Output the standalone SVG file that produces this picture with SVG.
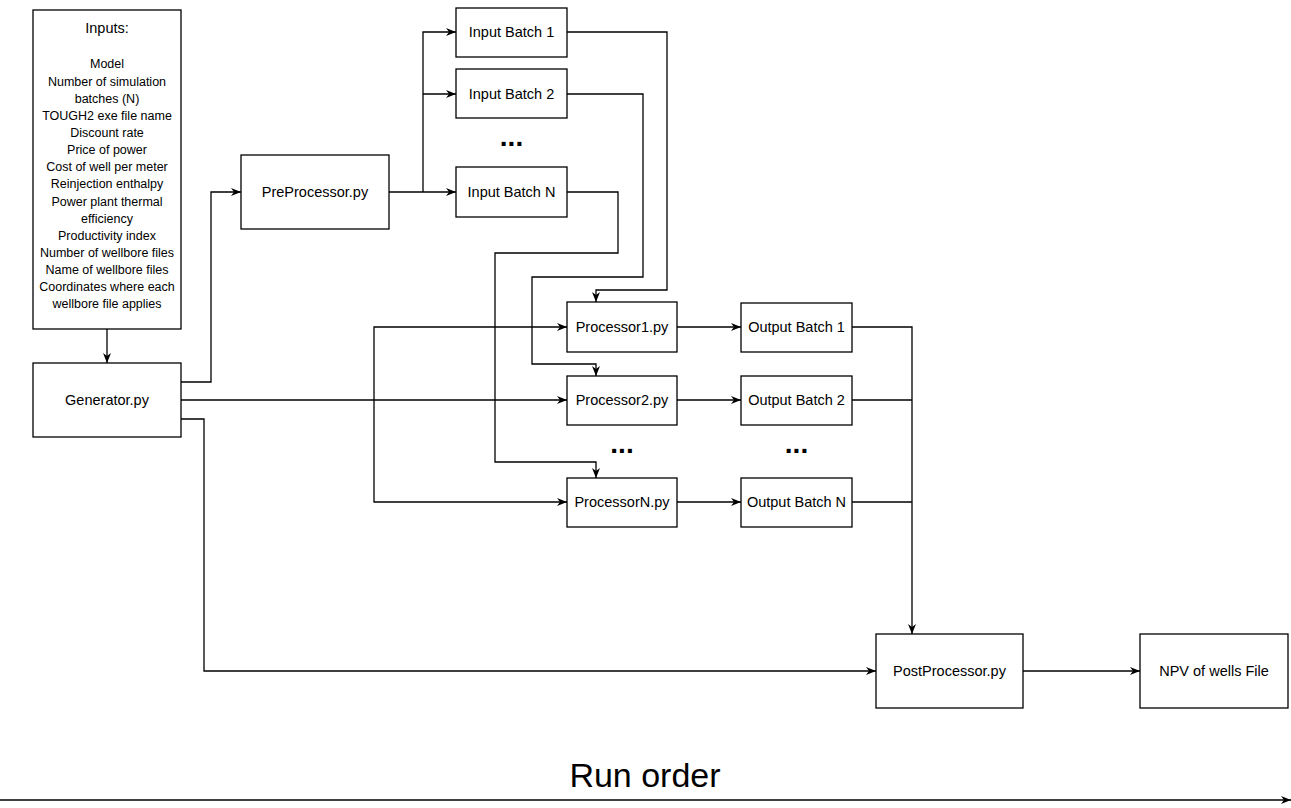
<svg xmlns="http://www.w3.org/2000/svg" width="1291" height="808" viewBox="0 0 1291 808">
<style>
.box{fill:#fff;stroke:#000;stroke-width:1.3}
.lbl{font-family:"Liberation Sans",Arial,Helvetica,sans-serif;font-size:14.5px;fill:#000;text-anchor:middle}
.small{font-family:"Liberation Sans",Arial,Helvetica,sans-serif;font-size:12.5px;fill:#000;text-anchor:middle}
.dots{font-family:"Liberation Sans",Arial,Helvetica,sans-serif;font-size:28px;font-weight:bold;fill:#000;text-anchor:middle}
.big{font-family:"Liberation Sans",Arial,Helvetica,sans-serif;font-size:34px;fill:#000;text-anchor:middle}
.c{fill:none;stroke:#000;stroke-width:1.3}
.a{marker-end:url(#arr)}
</style>
<defs>
<marker id="arr" viewBox="0 0 10 8" refX="10" refY="4" markerWidth="10" markerHeight="8" orient="auto" markerUnits="userSpaceOnUse">
<path d="M0,0 L10,4 L0,8 L3,4 Z" fill="#000"/>
</marker>
</defs>
<rect width="1291" height="808" fill="#fff"/>
<g id="connectors">
<path class="c a" d="M107,329 V363"/>
<path class="c a" d="M181,382 H211 V192 H241"/>
<path class="c a" d="M389,192 H456"/>
<path class="c a" d="M423,192 V32 H456"/>
<path class="c a" d="M423,94 H456"/>
<path class="c a" d="M567,32 H667 V290 H596 V302"/>
<path class="c a" d="M567,94 H643 V277 H532 V364 H596 V376"/>
<path class="c a" d="M567,192 H618 V253 H495 V462 H596 V478"/>
<path class="c a" d="M181,400 H567"/>
<path class="c a" d="M374,400 V327 H567"/>
<path class="c a" d="M374,400 V502 H567"/>
<path class="c a" d="M677,327 H741"/>
<path class="c a" d="M677,400 H741"/>
<path class="c a" d="M677,502 H741"/>
<path class="c a" d="M852,327 H912 V634"/>
<path class="c" d="M852,400 H912"/>
<path class="c" d="M852,502 H912"/>
<path class="c a" d="M181,419 H204 V671 H876"/>
<path class="c a" d="M1023,671 H1140"/>
<path class="c a" d="M0,800 H1291"/>
</g>
<g id="inputs">
<rect class="box" x="33" y="10" width="148" height="319"/>
<text class="lbl" x="107" y="33">Inputs:</text>
<text class="small" x="107" y="68.4">Model</text>
<text class="small" x="107" y="85.5">Number of simulation</text>
<text class="small" x="107" y="102.7">batches (N)</text>
<text class="small" x="107" y="119.8">TOUGH2 exe file name</text>
<text class="small" x="107" y="137">Discount rate</text>
<text class="small" x="107" y="154.1">Price of power</text>
<text class="small" x="107" y="171.2">Cost of well per meter</text>
<text class="small" x="107" y="188.4">Reinjection enthalpy</text>
<text class="small" x="107" y="205.5">Power plant thermal</text>
<text class="small" x="107" y="222.7">efficiency</text>
<text class="small" x="107" y="239.8">Productivity index</text>
<text class="small" x="107" y="257">Number of wellbore files</text>
<text class="small" x="107" y="274.1">Name of wellbore files</text>
<text class="small" x="107" y="291.2">Coordinates where each</text>
<text class="small" x="107" y="308.4">wellbore file applies</text>
</g>
<g id="generator">
<rect class="box" x="33" y="363" width="148" height="74"/>
<text class="lbl" x="107" y="405">Generator.py</text>
</g>
<g id="preprocessor">
<rect class="box" x="241" y="155" width="148" height="74"/>
<text class="lbl" x="315" y="197">PreProcessor.py</text>
</g>
<g id="inputbatch1">
<rect class="box" x="456" y="8" width="111" height="49"/>
<text class="lbl" x="511.5" y="37">Input Batch 1</text>
</g>
<g id="inputbatch2">
<rect class="box" x="456" y="69" width="111" height="49"/>
<text class="lbl" x="511.5" y="99">Input Batch 2</text>
</g>
<g id="inputdots">
<text class="dots" x="511.5" y="146">...</text>
</g>
<g id="inputbatchN">
<rect class="box" x="456" y="167" width="111" height="50"/>
<text class="lbl" x="511.5" y="197">Input Batch N</text>
</g>
<g id="processor1">
<rect class="box" x="567" y="302" width="110" height="50"/>
<text class="lbl" x="622" y="332">Processor1.py</text>
</g>
<g id="processor2">
<rect class="box" x="567" y="376" width="110" height="49"/>
<text class="lbl" x="622" y="405">Processor2.py</text>
</g>
<g id="processordots">
<text class="dots" x="622" y="453">...</text>
</g>
<g id="processorN">
<rect class="box" x="567" y="478" width="110" height="49"/>
<text class="lbl" x="622" y="507">ProcessorN.py</text>
</g>
<g id="output1">
<rect class="box" x="741" y="303" width="111" height="49"/>
<text class="lbl" x="796.5" y="332">Output Batch 1</text>
</g>
<g id="output2">
<rect class="box" x="741" y="376" width="111" height="49"/>
<text class="lbl" x="796.5" y="405">Output Batch 2</text>
</g>
<g id="outputdots">
<text class="dots" x="796.5" y="453">...</text>
</g>
<g id="outputN">
<rect class="box" x="741" y="478" width="111" height="49"/>
<text class="lbl" x="796.5" y="507">Output Batch N</text>
</g>
<g id="postprocessor">
<rect class="box" x="876" y="634" width="147" height="74"/>
<text class="lbl" x="949.5" y="676">PostProcessor.py</text>
</g>
<g id="npv">
<rect class="box" x="1140" y="634" width="148" height="74"/>
<text class="lbl" x="1214" y="676">NPV of wells File</text>
</g>
<g id="runorder">
<text class="big" x="645" y="787">Run order</text>
</g>
</svg>
